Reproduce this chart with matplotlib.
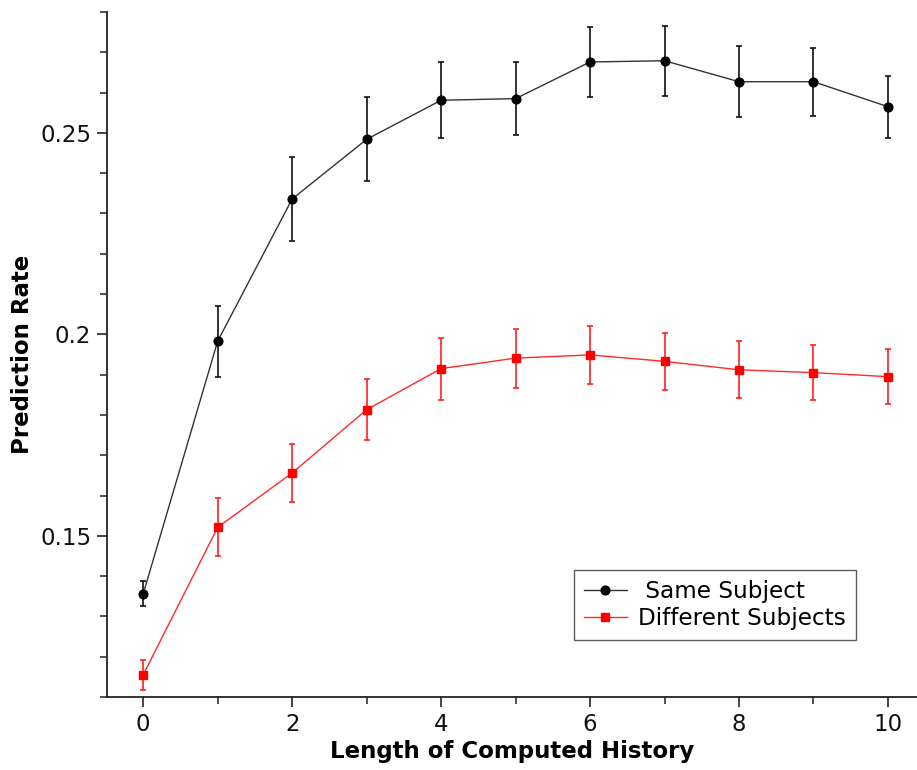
import matplotlib
matplotlib.use("Agg")
import matplotlib.pyplot as plt
from matplotlib.ticker import MultipleLocator

# History length (x) and prediction rates with error bars
history = [0, 1, 2, 3, 4, 5, 6, 7, 8, 9, 10]

same_rate = [0.1356, 0.1983, 0.2336, 0.2484, 0.2581, 0.2585, 0.2676, 0.2679, 0.2627, 0.2627, 0.2565]
same_err = [0.0031, 0.0088, 0.0104, 0.0104, 0.0094, 0.0090, 0.0087, 0.0087, 0.0088, 0.0084, 0.0077]

diff_rate = [0.1155, 0.1521, 0.1656, 0.1813, 0.1915, 0.1941, 0.1949, 0.1933, 0.1912, 0.1905, 0.1895]
diff_err = [0.0038, 0.0072, 0.0073, 0.0076, 0.0077, 0.0073, 0.0072, 0.0071, 0.0071, 0.0069, 0.0069]

series_labels = [" Same Subject", "Different Subjects"]
x_label = "Length of Computed History"
y_label = "Prediction Rate"
y_tick_values = [0.15, 0.2, 0.25]
y_tick_labels = ["0.15", "0.2", "0.25"]

plt.rcParams["font.family"] = ["DejaVu Sans"]

W, H = 917, 770
fig = plt.figure(figsize=(W / 100, H / 100), dpi=100)
ax = fig.add_axes([106.7 / W, (H - 697) / H, (W - 106.7) / W, 685 / H])

# Same subject: black circles
ax.errorbar(history, same_rate, yerr=same_err, fmt="none", ecolor="#111111",
            elinewidth=1.2, capsize=2.4, capthick=1.2, zorder=2)
ax.plot(history, same_rate, color="#333333", lw=1.0, marker="o", ms=6.3,
        mfc="black", mec="black", label=series_labels[0], zorder=3)

# Different subjects: red squares
ax.errorbar(history, diff_rate, yerr=diff_err, fmt="none", ecolor="#ff2020",
            elinewidth=1.2, capsize=2.4, capthick=1.2, zorder=2)
ax.plot(history, diff_rate, color="#ff2a2a", lw=1.0, marker="s", ms=5.5,
        mfc="#ff0000", mec="#ff0000", label=series_labels[1], zorder=3)

ax.set_xlim(-0.49, 10.39)
ax.set_ylim(0.11, 0.28)

ax.xaxis.set_major_locator(MultipleLocator(2))
ax.xaxis.set_minor_locator(MultipleLocator(1))
ax.set_yticks(y_tick_values)
ax.set_yticklabels(y_tick_labels)
ax.yaxis.set_minor_locator(MultipleLocator(0.01))

for side in ("top", "right"):
    ax.spines[side].set_visible(False)
for side in ("left", "bottom"):
    ax.spines[side].set_linewidth(1.3)
    ax.spines[side].set_color("#222222")

ax.tick_params(which="major", direction="out", length=7.2, width=1.2,
               colors="#222222", labelsize=16.5, labelcolor="#111111", pad=4)
ax.tick_params(which="minor", direction="out", length=4.8, width=1.1, colors="#222222")

ax.set_xlabel(x_label, fontsize=16.5, fontweight="bold", labelpad=3)
ax.set_ylabel(y_label, fontsize=16.5, fontweight="bold", labelpad=4)

leg = ax.legend(loc="lower right", bbox_to_anchor=(0.9247, 0.0832), borderaxespad=0,
                fontsize=16.7, frameon=True, fancybox=False, handlelength=1.85,
                handletextpad=0.5, labelspacing=0.2, borderpad=0.42)
leg.get_frame().set_edgecolor("#333333")
leg.get_frame().set_linewidth(1.0)

fig.savefig("out.png", dpi=100)
